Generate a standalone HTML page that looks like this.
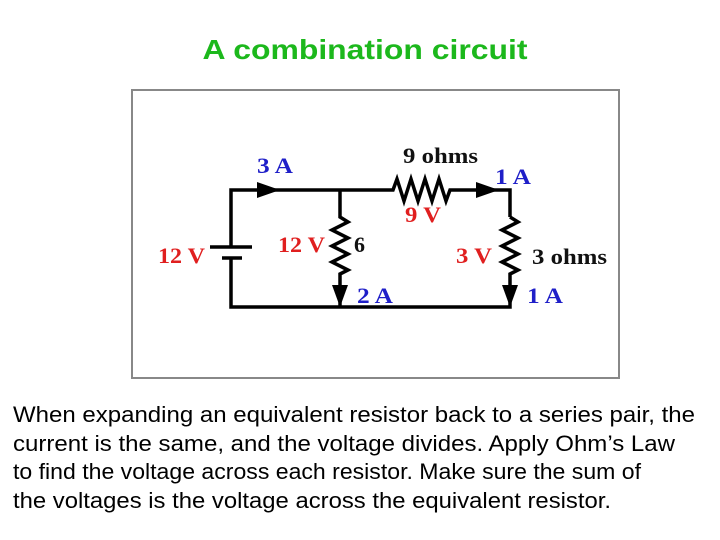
<!DOCTYPE html>
<html><head><meta charset="utf-8"><style>
html,body{margin:0;padding:0;background:#fff;}
svg{display:block}
.s{font-family:"Liberation Serif",serif;font-weight:bold;font-size:22px}
.b{fill:#1f1fc8}.r{fill:#e01f1f}.k{fill:#111}
</style></head><body>
<svg width="720" height="540" viewBox="0 0 720 540">
<text x="365" y="59" text-anchor="middle" font-family="Liberation Sans,sans-serif" font-weight="bold" font-size="28" fill="#1cb81c" textLength="325" lengthAdjust="spacingAndGlyphs">A combination circuit</text>
<rect x="132" y="90" width="487" height="288" fill="#fff" stroke="#888" stroke-width="2"/>
<g stroke="#000" stroke-width="3.5" fill="none" stroke-linejoin="miter">
<path d="M231 247 V190 H393 l4 -11 l7 22 l7 -22 l7 22 l7 -22 l7 22 l7 -22 l7 22 l4 -11 H510 V217"/>
<path d="M510 217 l8 5 l-16 8 l16 8 l-16 8 l16 8 l-16 8 l16 8 l-8 4 V307 H231 V258"/>
<path d="M340 190 V217 l8 5 l-16 8 l16 8 l-16 8 l16 8 l-16 8 l16 8 l-8 4 V307"/>
<path d="M210 247 H252 M222 258 H242"/>
</g>
<g fill="#000">
<polygon points="257,182 280,190 257,198"/>
<polygon points="476,182 499,190 476,198"/>
<polygon points="332,285 348,285 340,307"/>
<polygon points="502,285 518,285 510,307"/>
</g>
<text class="s b" x="257" y="173" textLength="36" lengthAdjust="spacingAndGlyphs">3 A</text>
<text class="s k" x="403" y="163" textLength="75" lengthAdjust="spacingAndGlyphs">9 ohms</text>
<text class="s b" x="495" y="184" textLength="36" lengthAdjust="spacingAndGlyphs">1 A</text>
<text class="s r" x="405" y="222" textLength="36" lengthAdjust="spacingAndGlyphs">9 V</text>
<text class="s r" x="158" y="263" textLength="47" lengthAdjust="spacingAndGlyphs">12 V</text>
<text class="s r" x="278" y="252" textLength="47" lengthAdjust="spacingAndGlyphs">12 V</text>
<text class="s k" x="354" y="252">6</text>
<text class="s r" x="456" y="263" textLength="36" lengthAdjust="spacingAndGlyphs">3 V</text>
<text class="s k" x="532" y="264" textLength="75" lengthAdjust="spacingAndGlyphs">3 ohms</text>
<text class="s b" x="357" y="303" textLength="36" lengthAdjust="spacingAndGlyphs">2 A</text>
<text class="s b" x="527" y="303" textLength="36" lengthAdjust="spacingAndGlyphs">1 A</text>
<g font-family="Liberation Sans,sans-serif" font-size="22" fill="#000">
<text x="13" y="422" textLength="682" lengthAdjust="spacingAndGlyphs">When expanding an equivalent resistor back to a series pair, the</text>
<text x="13" y="451" textLength="662" lengthAdjust="spacingAndGlyphs">current is the same, and the voltage divides. Apply Ohm’s Law</text>
<text x="13" y="479" textLength="628" lengthAdjust="spacingAndGlyphs">to find the voltage across each resistor. Make sure the sum of</text>
<text x="13" y="508" textLength="598" lengthAdjust="spacingAndGlyphs">the voltages is the voltage across the equivalent resistor.</text>
</g>
</svg>
</body></html>
